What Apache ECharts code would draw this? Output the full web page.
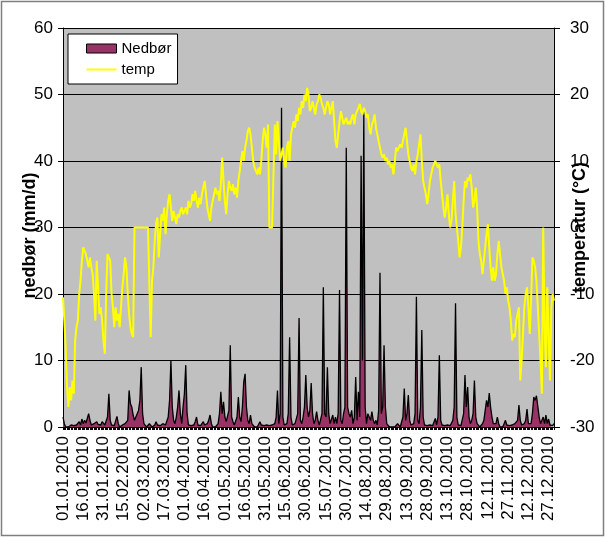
<!DOCTYPE html>
<html>
<head>
<meta charset="utf-8">
<script src="https://cdn.jsdelivr.net/npm/echarts@6/dist/echarts.min.js"></script>
<style>
html,body{margin:0;padding:0;background:#fff;}
#c{width:606px;height:538px;}
</style>
</head>
<body>
<div id="c"></div>
<script>
// ---- data ----
var monthLengths = [31,28,31,30,31,30,31,31,30,31,30,31];
var year = 2010;
var categories = [];
for (var m = 0; m < 12; m++) {
  for (var d = 1; d <= monthLengths[m]; d++) {
    categories.push((d < 10 ? '0' : '') + d + '.' + (m + 1 < 10 ? '0' : '') + (m + 1) + '.' + year);
  }
}

// precipitation (mm/d), one value per day
var nedborJan = [1.5,0.5,0,0.2,0,0,0.3,0,0.2,0.5,0.3,0,0.8,0.3,1.2,0.5,1.0,0.6,1.3,2,1,0.3,0,0.5,0.2,0.8,0.4,0.6,0.3,0.8,0.5];
var nedborFeb = [0.3,0.6,1.5,5,1,0.3,0,0.2,0.5,1.6,0.5,0,0.2,0.3,0,0.5,0.8,1,5.5,3.5,3,1.8,1,1.5,2,2.5,4,9];
var nedborMar = [2,0.5,0.3,0,0.2,0.5,0.3,0,0.2,0.3,0.8,0.3,0,0.2,0,0.5,0.2,0.3,0.5,1.5,4,10,3,1,0.5,1.5,3,5.5,2,0.5,3];
var nedborApr = [5,9.3,2,0.3,0,0.2,0,0.3,0.8,1.5,0.3,0,0.2,0,0.8,0.3,0,0.5,1,1.8,0.5,0,0.2,0,0.3,0.5,2,5.3,2,3.8];
var nedborMay = [1.5,0.8,1,2.5,12.3,1.5,0.8,0.3,0.5,1.5,4.5,1.5,0.8,3,6.8,8,3,1,0.5,1.8,0.5,0.2,0,0.3,0,0.2,0.8,0.3,0,0.2,0];
var nedborJun = [0.3,0.5,0.2,0,0.3,0,0.5,1.5,5.5,0.5,2,48,1.5,0.3,0,0.5,2,13.5,1.5,0.3,0,0.5,0.3,2,16.4,1,0.5,1.5,3,7.8];
var nedborJul = [3,1.5,2.5,6.6,2,0.5,1,2.3,1,0.3,0.5,2,21,2,1.5,9,2,0.5,0.3,1.8,0.5,1.5,0.5,2,20.6,1,0.5,2,3,42,3];
var nedborAug = [2,1.5,2.5,0.5,1.5,7.5,1,5.3,1.5,40.8,10,47.5,3,0.5,2,1.5,1,2.3,1,0.5,1,0.3,2.5,23.2,2,3,12.3,3,0.5,0.3,0];
var nedborSep = [0.2,0,0.3,0,0.2,0.5,0.2,0,0.3,1.5,5.8,1,2,4.8,1,0.3,0,0.5,2,19.6,1,0.5,3,14.6,1.5,0.3,0,0.2,0,0.3];
var nedborOct = [0,0.2,0.5,1.3,0.3,1.5,10.8,1,0.3,0,0.2,0,0.3,0,0.2,0.5,1,3,18.6,1.5,0.3,0,0.2,0.5,2,7.8,3,6,1.5,0.5,1];
var nedborNov = [2,7,1.5,0.5,0.2,0,0.3,0.5,1,2.5,4,3,5.1,3,1.5,0.5,0.2,0.5,1.5,0.5,0,0.3,0,0.5,1,0.3,0,0.2,0.5,0.3];
var nedborDec = [0,0.5,0.3,1,3.3,1,0.3,0,0.5,1,2.7,0.5,0.3,0.5,2,4.5,4,4.7,4.5,1.5,0.5,0.3,1.5,0.5,1.8,0.5,1.2,0.3,0.5,0.2,0.5];

// temperature (°C), one value per day
var tempJan = [-10.5,-14,-18,-24,-27,-24,-26,-23,-25,-17,-15,-14,-10,-8,-5,-3,-3.5,-4,-4,-6,-4.5,-6,-7,-10,-14,-5,-9,-13,-12,-14,-17];
var tempFeb = [-19,-10,-4,-4.5,-5,-10,-12,-15,-12,-14,-13,-15,-12,-9,-7,-4.5,-6,-10,-13,-15,-16,-16.5,0,0,0,0,0,0];
var tempMar = [0,0,0,0,0,0,-16.5,-8,-6,-2,0.6,1.5,-4.5,-1,2,1,3,-1,2,4,5,3,1,2.5,1.5,0.5,2,1.5,2.5,3,2];
var tempApr = [2.5,3,2,4,3,3.5,5,4,5.5,4,3,4.5,3.5,5,6,7,5,3,2,1,3,4,5,6,5,5.5,4,6.5,10.5,7];
var tempMay = [4,2,5,7,6,5.5,6.5,5,6,4.5,7,8.5,10,11.5,10,12,13,14.5,15,14,12,10,9,8.5,8,9,8,10,13,15,14];
var tempJun = [12,15.5,0,0,0,0,15.5,11,16,13,10,11,12,10,9,12,13,10,14,15,16,15,17,16,18,17,19,18,20,19];
var tempJul = [21,20,17.5,18,19,18,17,18.5,19,20,19.5,18.5,18,17,18,19,18.5,17,18,19,16,13,12,14,16,17.5,16.5,15.5,16,16.5,15.5];
var tempAug = [16,15.5,16.5,17,15.5,17,17.5,18,18.6,17.5,17,18,17.5,16.5,17,15,14,15.5,16,17,15,14,13,12,11,10.5,11,10,10.5,9.5,10];
var tempSep = [9,9.5,8,10,12,11.5,12,12.5,12,13,14,15,13,11,10,9,8.5,9.5,8,10,11,12.5,14,10,7,6,5,3.5,5,7];
var tempOct = [8,9,9.5,10,9.5,9,9.5,7,5,3,1.5,3,5,2,0,1,4,7,2,0,-2,-4.5,-3,0,4,7,6,7.5,7,8,6];
var tempNov = [3,4,6,3,-2,-4,-5,-7,-5,-3,-1,0.5,-3,-6,-8,-6,-8,-7,-4,-2,-4,-6,-7,-8,-10,-9,-11,-12,-14,-17];
var tempDec = [-16,-16.5,-14,-13,-12,-23,-20,-16,-12,-10,-9,-12,-16,-11,-4.5,-5,-6,-8,-12,-16,-20,-25,0,-15,-21,-9,-16,-23,-12,-10,-11];

var nedbor = [].concat(nedborJan,nedborFeb,nedborMar,nedborApr,nedborMay,nedborJun,nedborJul,nedborAug,nedborSep,nedborOct,nedborNov,nedborDec);
var temp = [].concat(tempJan,tempFeb,tempMar,tempApr,tempMay,tempJun,tempJul,tempAug,tempSep,tempOct,tempNov,tempDec);

var leftTicks = {min: 0, max: 60, interval: 10};
var rightTicks = {min: -30, max: 30, interval: 10};

var chart = echarts.init(document.getElementById('c'), null, {renderer: 'canvas'});
var font = 'Liberation Sans, Arial, sans-serif';
chart.setOption({
  animation: false,
  backgroundColor: '#ffffff',
  textStyle: {fontFamily: font, color: '#000'},
  graphic: [{
    type: 'rect', z: 100, silent: true,
    shape: {x: 1.5, y: 1.5, width: 602, height: 534},
    style: {fill: 'none', stroke: '#7f7f7f', lineWidth: 1.5}
  }],
  grid: {left: 63, right: 52, top: 28, bottom: 111, show: true, backgroundColor: '#C0C0C0', borderWidth: 0,
         outerBoundsMode: 'none', containLabel: false},
  legend: {
    left: 68, top: 34, orient: 'vertical',
    backgroundColor: '#fff', borderColor: '#000', borderWidth: 1,
    padding: [7, 6, 7, 18], itemGap: 6, itemWidth: 30, itemHeight: 9,
    textStyle: {fontFamily: font, fontSize: 15, color: '#000'},
    data: [
      {name: 'Nedbør', icon: 'rect', itemStyle: {color: '#993366', borderColor: '#000', borderWidth: 1}},
      {name: 'temp', icon: 'path://M0,4 L30,4 L30,6 L0,6 Z', itemStyle: {color: '#FFFF00'}}
    ]
  },
  xAxis: {
    type: 'category', data: categories, boundaryGap: false,
    axisLine: {onZero: false, lineStyle: {color: '#000', width: 1}},
    axisTick: {show: true, interval: 0, length: 3, lineStyle: {color: '#000'}},
    axisLabel: {interval: 14, rotate: 90, fontSize: 17, color: '#000', fontFamily: font, margin: 9},
    splitLine: {show: false}
  },
  yAxis: [{
    type: 'value', min: leftTicks.min, max: leftTicks.max, interval: leftTicks.interval,
    name: 'nedbør (mm/d)', nameLocation: 'middle', nameGap: 24, nameRotate: 90, nameMoveOverlap: false,
    nameTextStyle: {fontFamily: font, fontSize: 18, fontWeight: 'bold', color: '#000', padding: [0, 16, 0, 0]},
    axisLine: {show: true, lineStyle: {color: '#000'}},
    axisTick: {show: true, length: 5, lineStyle: {color: '#000'}},
    axisLabel: {fontSize: 17, color: '#000', fontFamily: font, margin: 10},
    splitLine: {show: true, lineStyle: {color: '#000', width: 1}}
  }, {
    type: 'value', position: 'right', min: rightTicks.min, max: rightTicks.max, interval: rightTicks.interval,
    name: 'temperatur (°C)', nameLocation: 'middle', nameGap: 17, nameRotate: 90, nameMoveOverlap: false,
    nameTextStyle: {fontFamily: font, fontSize: 18, fontWeight: 'bold', color: '#000'},
    axisLine: {show: true, lineStyle: {color: '#000'}},
    axisTick: {show: true, length: 6, lineStyle: {color: '#000'}},
    axisLabel: {fontSize: 17, color: '#000', fontFamily: font, margin: 16},
    splitLine: {show: false}
  }],
  series: [{
    name: 'Nedbør', type: 'line', yAxisIndex: 0, data: nedbor,
    symbol: 'none', showSymbol: false,
    lineStyle: {color: '#000', width: 1.3},
    itemStyle: {color: '#993366', borderColor: '#000'},
    areaStyle: {color: '#993366', opacity: 1},
    z: 2
  }, {
    name: 'temp', type: 'line', yAxisIndex: 1, data: temp,
    symbol: 'none', showSymbol: false,
    lineStyle: {color: '#FFFF00', width: 2},
    itemStyle: {color: '#FFFF00'},
    z: 3
  }]
});
</script>
</body>
</html>
